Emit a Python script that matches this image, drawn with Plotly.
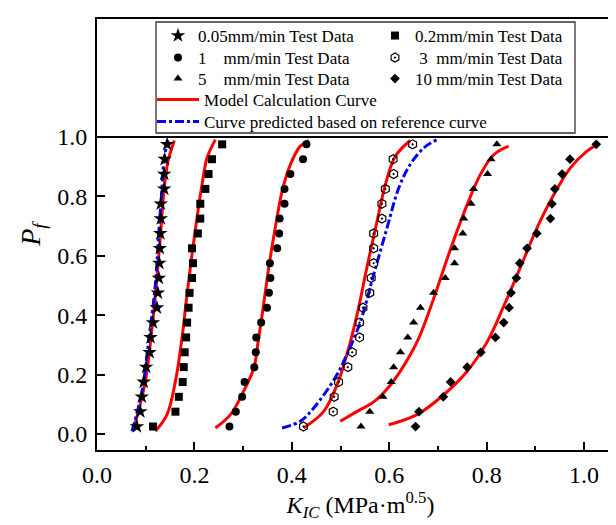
import plotly.graph_objects as go

# Failure probability levels (median ranks) shared by all test series
P_levels = [0.025, 0.075, 0.125, 0.175, 0.225, 0.275, 0.325, 0.375, 0.425, 0.475,
            0.525, 0.575, 0.625, 0.675, 0.725, 0.775, 0.825, 0.875, 0.925, 0.975]

# Test data K_IC values (MPa m^0.5)
k_005 = [0.082, 0.089, 0.092, 0.096, 0.101, 0.108, 0.110, 0.115, 0.123, 0.125,
         0.127, 0.128, 0.129, 0.130, 0.131, 0.131, 0.138, 0.138, 0.139, 0.144]
k_02 = [0.115, 0.161, 0.168, 0.176, 0.178, 0.180, 0.183, 0.185, 0.188, 0.190,
        0.195, 0.197, 0.195, 0.207, 0.212, 0.212, 0.2225, 0.229, 0.236, 0.257]
k_1 = [0.272, 0.285, 0.298, 0.303, 0.323, 0.326, 0.327, 0.337, 0.349, 0.353,
       0.356, 0.355, 0.370, 0.374, 0.375, 0.385, 0.385, 0.397, 0.423, 0.430]
k_3 = [0.424, 0.485, 0.487, 0.496, 0.515, 0.524, 0.539, 0.539, 0.546, 0.560,
       0.563, 0.568, 0.568, 0.568, 0.585, 0.585, 0.592, 0.609, 0.608, 0.648]
k_5 = [0.542, 0.560, 0.587, 0.604, 0.609, 0.623, 0.638, 0.650, 0.664, 0.691,
       0.715, 0.734, 0.734, 0.751, 0.753, 0.768, 0.773, 0.802, 0.809, 0.821]
k_10 = [0.654, 0.661, 0.711, 0.726, 0.760, 0.788, 0.818, 0.835, 0.846, 0.850,
        0.861, 0.868, 0.883, 0.903, 0.931, 0.934, 0.940, 0.955, 0.971, 1.025]

# Model calculation curves
m005_k = [0.076, 0.0787, 0.0992, 0.113, 0.123, 0.1314, 0.138, 0.1458, 0.1588]
m005_p = [0.020, 0.037, 0.177, 0.357, 0.525, 0.694, 0.828, 0.918, 0.988]
m02_k = [0.1198, 0.1437, 0.161, 0.1745, 0.1848, 0.195, 0.2053, 0.2156, 0.2259, 0.243]
m02_p = [0.009, 0.065, 0.177, 0.323, 0.469, 0.604, 0.727, 0.839, 0.929, 0.991]
m1_k = [0.243, 0.274, 0.301, 0.322, 0.331, 0.342, 0.3525, 0.366, 0.380, 0.397, 0.4175, 0.435]
m1_p = [0.020, 0.065, 0.144, 0.222, 0.312, 0.435, 0.559, 0.694, 0.817, 0.907, 0.969, 0.988]
m3_k = [0.424, 0.4655, 0.493, 0.513, 0.534, 0.554, 0.575, 0.592, 0.6125, 0.643]
m3_p = [0.020, 0.076, 0.166, 0.267, 0.402, 0.559, 0.716, 0.839, 0.935, 0.988]
m5_k = [0.4995, 0.534, 0.568, 0.600, 0.630, 0.660, 0.690, 0.719, 0.739, 0.760, 0.787, 0.8145, 0.845]
m5_p = [0.043, 0.076, 0.108, 0.160, 0.230, 0.320, 0.450, 0.590, 0.682, 0.772, 0.873, 0.940, 0.969]
m10_k = [0.599, 0.657, 0.712, 0.760, 0.801, 0.835, 0.869, 0.9035, 0.938, 0.972, 1.006, 1.027]
m10_p = [0.031, 0.065, 0.132, 0.211, 0.310, 0.430, 0.560, 0.694, 0.806, 0.896, 0.952, 0.974]

# Curves predicted based on reference curve
p005_k = [0.0719, 0.0924, 0.106, 0.1198, 0.1266, 0.1335, 0.138, 0.1458]
p005_p = [0.009, 0.144, 0.312, 0.503, 0.671, 0.828, 0.929, 0.988]
p3_k = [0.380, 0.4175, 0.445, 0.489, 0.513, 0.541, 0.568, 0.5955, 0.6195, 0.643, 0.671, 0.698]
p3_p = [0.020, 0.043, 0.0875, 0.189, 0.267, 0.379, 0.536, 0.694, 0.828, 0.907, 0.963, 0.991]

# name, data, symbol, size, legend row
series = [
    ("0.05mm/min Test Data", k_005, "star", 11, "legend"),
    ("0.2mm/min Test Data", k_02, "square", 8, "legend"),
    ("1&nbsp;&nbsp;&nbsp;&nbsp;mm/min Test Data", k_1, "circle", 8, "legend2"),
    ("&nbsp;3&nbsp;&nbsp;mm/min Test Data", k_3, "hexagon-open-dot", 9, "legend2"),
    ("5&nbsp;&nbsp;&nbsp;&nbsp;mm/min Test Data", k_5, "triangle-up", 8, "legend3"),
    ("10 mm/min Test Data", k_10, "diamond", 7.5, "legend3"),
]

FONT = "Liberation Serif"
RED = "#ff0000"
BLUE = "#0000ff"
fig = go.Figure()

model_curves = [(m005_k, m005_p), (m02_k, m02_p), (m1_k, m1_p), (m3_k, m3_p), (m5_k, m5_p), (m10_k, m10_p)]
for i, (kk, pp) in enumerate(model_curves):
    fig.add_trace(go.Scatter(x=kk, y=pp, mode="lines", line=dict(color=RED, width=3, shape="spline"),
                             name="Model Calculation Curve", legend="legend4",
                             showlegend=(i == 0)))
for i, (kk, pp) in enumerate([(p005_k, p005_p), (p3_k, p3_p)]):
    fig.add_trace(go.Scatter(x=kk, y=pp, mode="lines",
                             line=dict(color=BLUE, width=3, dash="dashdot", shape="spline"),
                             name="Curve predicted based on reference curve", legend="legend5",
                             showlegend=(i == 0)))

for name, kk, sym, sz, leg in series:
    fig.add_trace(go.Scatter(x=kk, y=P_levels, mode="markers", name=name, legend=leg,
                             marker=dict(symbol=sym, size=sz, color="black",
                                         line=dict(color="black", width=1.2 if "open" in sym else 0))))

# legend frame and the P = 1 line
fig.add_shape(type="rect", xref="paper", yref="paper", x0=0.112, x1=0.907, y0=0.7355, y1=0.993,
              line=dict(color="#333333", width=1.3), fillcolor="rgba(0,0,0,0)")
fig.add_shape(type="line", xref="paper", yref="y", x0=0, x1=1, y0=1.0, y1=1.0,
              line=dict(color="black", width=2))

row_font = dict(family=FONT, size=17, color="black")
def mrow(y):
    return dict(orientation="h", x=0.1157, xanchor="left", y=y, yanchor="middle",
                entrywidth=172, font=row_font, bgcolor="rgba(0,0,0,0)", traceorder="normal")
def lrow(y):
    return dict(orientation="v", x=0.1044, xanchor="left", y=y, yanchor="middle",
                itemwidth=42, font=row_font, bgcolor="rgba(0,0,0,0)")

fig.update_layout(
    width=616, height=525,
    margin=dict(l=89, r=0, t=11, b=83),
    paper_bgcolor="white", plot_bgcolor="white",
    font=dict(family=FONT, color="black", size=24),
    legend=mrow(0.9606), legend2=mrow(0.9095), legend3=mrow(0.8608),
    legend4=lrow(0.8121), legend5=lrow(0.761),
    xaxis=dict(range=[0, 1.082], tickvals=[0, 0.2, 0.4, 0.6, 0.8, 1.0], tickformat=".1f",
               showline=True, linewidth=2, linecolor="black", mirror=True,
               ticks="inside", ticklen=8, tickwidth=2, tickcolor="black",
               minor=dict(dtick=0.1, ticks="inside", ticklen=4, tickwidth=2, tickcolor="black"),
               showgrid=False, zeroline=False, tickfont=dict(size=24), ticklabelstandoff=2,
               title=dict(text="<i>K<sub>IC</sub></i> (MPa·m<sup>0.5</sup>)", font=dict(size=24), standoff=6)),
    yaxis=dict(range=[-0.054, 1.397], tickvals=[0, 0.2, 0.4, 0.6, 0.8, 1.0], tickformat=".1f",
               showline=True, linewidth=2, linecolor="black", mirror=False,
               ticks="inside", ticklen=8, tickwidth=2, tickcolor="black",
               showgrid=False, zeroline=False, tickfont=dict(size=24), ticklabelstandoff=3,
               title=dict(text="<i>P<sub>f</sub></i>", font=dict(size=28), standoff=8)),
)

fig.write_html("out.html")
